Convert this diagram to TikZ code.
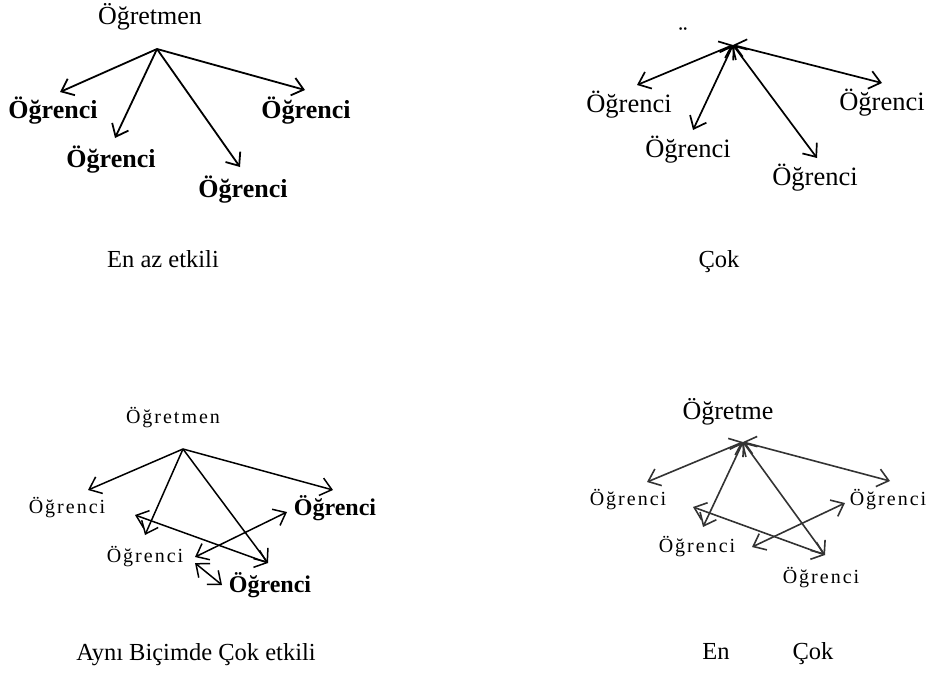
\documentclass[tikz,border=0pt]{standalone}
\usepackage{fontspec}
\setmainfont{Liberation Serif}
\newfontfamily\spacedserif[LetterSpace=10]{Liberation Serif}
\usetikzlibrary{arrows.meta}
\begin{document}
\begin{tikzpicture}[x=1pt,y=-1pt,
  lblA/.style={inner sep=0pt,font=\fontsize{26}{30}\selectfont\bfseries},
  lblR/.style={inner sep=0pt,font=\fontsize{26.5}{30}\selectfont},
  lblS/.style={inner sep=0pt,font=\spacedserif\fontsize{20}{24}\selectfont},
  lblB/.style={inner sep=0pt,font=\fontsize{24}{28}\selectfont\bfseries},
  capt/.style={inner sep=0pt,anchor=base,font=\fontsize{24.5}{28}\selectfont},
  one/.style={line width=1.8pt,-{Straight Barb[length=11pt,width=18pt]}},
  two/.style={line width=1.7pt,{Straight Barb[length=11pt,width=18pt]}-{Straight Barb[length=11pt,width=18pt]}},
  twog/.style={two,line width=1.6pt,draw=black!80},
]
\useasboundingbox (0,0) rectangle (934,683);

% ---------- Panel 1 ----------
\node[lblR,font=\fontsize{26}{30}\selectfont] (t1) at (150,17) {Öğretmen};
\node[lblA] (s1a) at (53,111) {Öğrenci};
\node[lblA] (s1b) at (111,160) {Öğrenci};
\node[lblA] (s1c) at (243,190) {Öğrenci};
\node[lblA] (s1d) at (306,111) {Öğrenci};
\coordinate (h1) at (157,49);
\coordinate (p1a) at (60,92);
\coordinate (p1b) at (115,138);
\coordinate (p1c) at (240,167);
\coordinate (p1d) at (305,90);
\draw[one] (h1) -- (p1a);
\draw[one] (h1) -- (p1b);
\draw[one] (h1) -- (p1c);
\draw[one] (h1) -- (p1d);
\node[capt] (c1) at (163,267) {En az etkili};

% ---------- Panel 2 ----------
\node[lblR] (t2) at (683,36) {¨};
\node[lblR] (s2a) at (629,105) {Öğrenci};
\node[lblR] (s2b) at (688,150) {Öğrenci};
\node[lblR] (s2c) at (815,178) {Öğrenci};
\node[lblR] (s2d) at (882,103) {Öğrenci};
\coordinate (h2) at (733,45);
\coordinate (p2a) at (637,85);
\coordinate (p2b) at (693,130);
\coordinate (p2c) at (817,158);
\coordinate (p2d) at (882,83);
\draw[two] (h2) -- (p2a);
\draw[two] (h2) -- (p2b);
\draw[two] (h2) -- (p2c);
\draw[two] (h2) -- (p2d);
\node[capt] (c2) at (719,267) {Çok};

% ---------- Panel 3 ----------
\node[lblS] (t3) at (173,418) {Öğretmen};
\node[lblS] (s3a) at (67,508) {Öğrenci};
\node[lblS] (s3b) at (145,557) {Öğrenci};
\node[lblB] (s3c) at (270,585) {Öğrenci};
\node[lblB] (s3d) at (335,508) {Öğrenci};
\coordinate (h3) at (183,449);
\coordinate (p3a) at (88,490);
\coordinate (p3b) at (145,535);
\coordinate (p3c) at (268,563);
\coordinate (p3d) at (333,490);
\coordinate (q3a) at (135,515);
\coordinate (q3b) at (195,557);
\coordinate (q3c) at (287,512);
\coordinate (q3d) at (195,563);
\coordinate (q3e) at (222,585);
\draw[one,line width=1.5pt] (h3) -- (p3a);
\draw[one,line width=1.5pt] (h3) -- (p3b);
\draw[one,line width=1.5pt] (h3) -- (p3c);
\draw[one,line width=1.5pt] (h3) -- (p3d);
\draw[two,line width=1.5pt] (q3a) -- (p3c);
\draw[two,line width=1.5pt] (q3b) -- (q3c);
\draw[two,line width=1.5pt] (q3d) -- (q3e);
\node[capt] (c3) at (196,660) {Aynı Biçimde Çok etkili};

% ---------- Panel 4 ----------
\node[lblR,font=\fontsize{26}{30}\selectfont] (t4) at (728,412) {Öğretme};
\node[lblS] (s4a) at (628,500) {Öğrenci};
\node[lblS] (s4b) at (697,547) {Öğrenci};
\node[lblS] (s4c) at (821,578) {Öğrenci};
\node[lblS] (s4d) at (888,500) {Öğrenci};
\coordinate (h4) at (743,442);
\coordinate (p4a) at (647,482);
\coordinate (p4b) at (703,527);
\coordinate (p4c) at (825,555);
\coordinate (p4d) at (890,481);
\coordinate (q4a) at (693,507);
\coordinate (q4b) at (752,547);
\coordinate (q4c) at (845,503);
\draw[twog] (h4) -- (p4a);
\draw[twog] (h4) -- (p4b);
\draw[twog] (h4) -- (p4c);
\draw[twog] (h4) -- (p4d);
\draw[twog] (q4a) -- (p4c);
\draw[twog] (q4b) -- (q4c);
\node[capt] (c4a) at (716,659) {En};
\node[capt] (c4b) at (813,659) {Çok};
\end{tikzpicture}
\end{document}
